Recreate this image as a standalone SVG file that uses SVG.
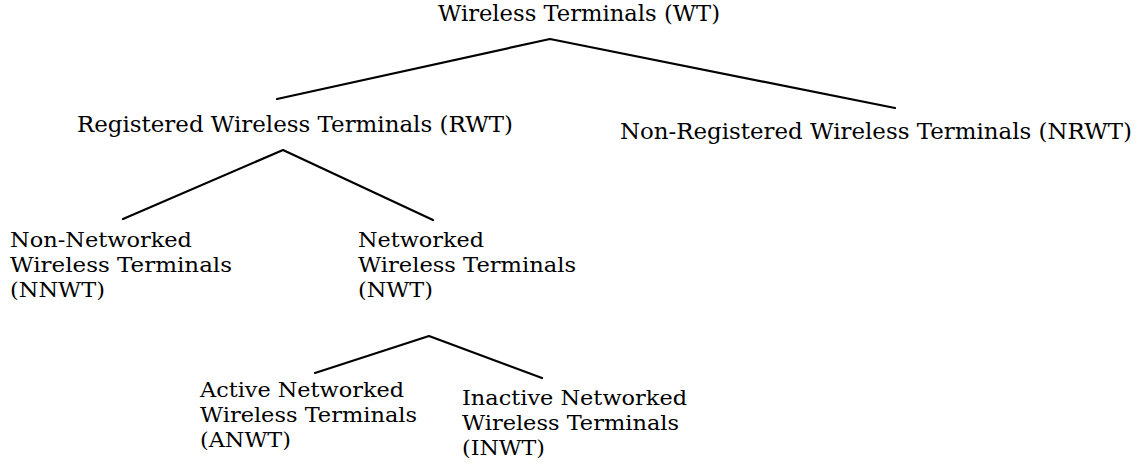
<svg xmlns="http://www.w3.org/2000/svg" width="1143" height="468" viewBox="0 0 1143 468">
  <style>
    .lbl { font-family: "DejaVu Serif", "Liberation Serif", serif; font-size: 22.5px; fill: #000; }
    .sub { font-family: "DejaVu Serif", "Liberation Serif", serif; font-size: 21px; fill: #000; }
    .edge { stroke: #000; stroke-width: 2.2; fill: none; stroke-linecap: round; stroke-linejoin: round; }
  </style>
  <rect width="1143" height="468" fill="#fff"/>

  <!-- connectors: each branch drawn as a caret from parent to its two children -->
  <g id="connectors">
    <polyline class="edge" points="277,99 550,39 895,108"/>
    <polyline class="edge" points="123,219 283,150 433,220"/>
    <polyline class="edge" points="315,373 429,336 542,378"/>
  </g>

  <g id="wt">
    <text class="lbl" x="438" y="21" textLength="282" lengthAdjust="spacingAndGlyphs">Wireless Terminals (WT)</text>
  </g>
  <g id="rwt">
    <text class="lbl" x="77" y="132" textLength="436" lengthAdjust="spacingAndGlyphs">Registered Wireless Terminals (RWT)</text>
  </g>
  <g id="nrwt">
    <text class="lbl" x="620" y="139" textLength="512" lengthAdjust="spacingAndGlyphs">Non-Registered Wireless Terminals (NRWT)</text>
  </g>
  <g id="nnwt">
    <text class="sub" x="10" y="247" textLength="182" lengthAdjust="spacingAndGlyphs">Non-Networked</text>
    <text class="sub" x="10" y="272" textLength="222" lengthAdjust="spacingAndGlyphs">Wireless Terminals</text>
    <text class="sub" x="10" y="297" textLength="95" lengthAdjust="spacingAndGlyphs">(NNWT)</text>
  </g>
  <g id="nwt">
    <text class="sub" x="358" y="247" textLength="126" lengthAdjust="spacingAndGlyphs">Networked</text>
    <text class="sub" x="358" y="272" textLength="218" lengthAdjust="spacingAndGlyphs">Wireless Terminals</text>
    <text class="sub" x="358" y="297" textLength="75" lengthAdjust="spacingAndGlyphs">(NWT)</text>
  </g>
  <g id="anwt">
    <text class="sub" x="200" y="397" textLength="204" lengthAdjust="spacingAndGlyphs">Active Networked</text>
    <text class="sub" x="200" y="422" textLength="217" lengthAdjust="spacingAndGlyphs">Wireless Terminals</text>
    <text class="sub" x="200" y="447" textLength="91" lengthAdjust="spacingAndGlyphs">(ANWT)</text>
  </g>
  <g id="inwt">
    <text class="sub" x="462" y="405" textLength="225" lengthAdjust="spacingAndGlyphs">Inactive Networked</text>
    <text class="sub" x="462" y="430" textLength="217" lengthAdjust="spacingAndGlyphs">Wireless Terminals</text>
    <text class="sub" x="462" y="455" textLength="83" lengthAdjust="spacingAndGlyphs">(INWT)</text>
  </g>
</svg>
